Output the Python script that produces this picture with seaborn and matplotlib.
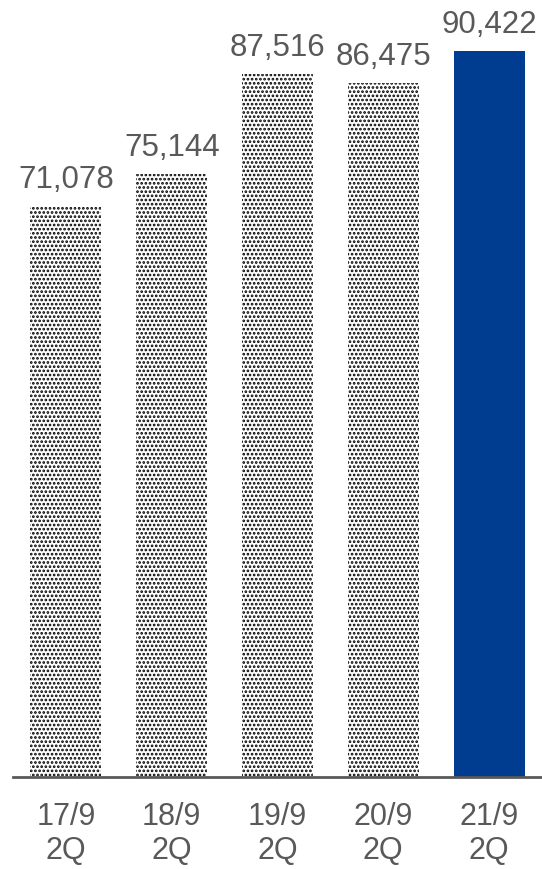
import pandas as pd
import matplotlib
matplotlib.use('Agg')
import matplotlib.pyplot as plt
import seaborn as sns

# Data
periods = ['17/9\n2Q', '18/9\n2Q', '19/9\n2Q', '20/9\n2Q', '21/9\n2Q']
values = [71078, 75144, 87516, 86475, 90422]
df = pd.DataFrame({'period': periods, 'value': values})

sns.set_style('white')
plt.rcParams['font.family'] = ['Liberation Sans', 'DejaVu Sans']
plt.rcParams['hatch.linewidth'] = 1.3

fig = plt.figure(figsize=(5.42, 8.70), dpi=100)
ax = fig.add_axes([13 / 542, 92 / 870, 529 / 542, 778 / 870])

sns.barplot(data=df, x='period', y='value', ax=ax, width=0.67,
            color='#003C8F', saturation=1)

# Past periods get the dotted fill, latest stays solid blue
for patch in ax.patches[:-1]:
    patch.set_facecolor('white')
    patch.set_edgecolor('black')
    patch.set_hatch('....')
    patch.set_linewidth(0)
ax.patches[-1].set_linewidth(0)

grey = '#595959'
for i, v in enumerate(values):
    ax.text(i, v + 1500, f'{v:,}', ha='center', va='bottom',
            fontsize=22.5, color=grey)

ax.set_xlim(-0.5, 4.5)
ax.set_ylim(0, 90422 * 778 / 726)
ax.set_xlabel('')
ax.set_ylabel('')
ax.set_yticks([])
ax.tick_params(axis='x', length=0, pad=17, labelsize=22, labelcolor=grey)
for s in ['top', 'right', 'left']:
    ax.spines[s].set_visible(False)
ax.spines['bottom'].set_color(grey)
ax.spines['bottom'].set_linewidth(2)

fig.savefig('out.png', dpi=100)
